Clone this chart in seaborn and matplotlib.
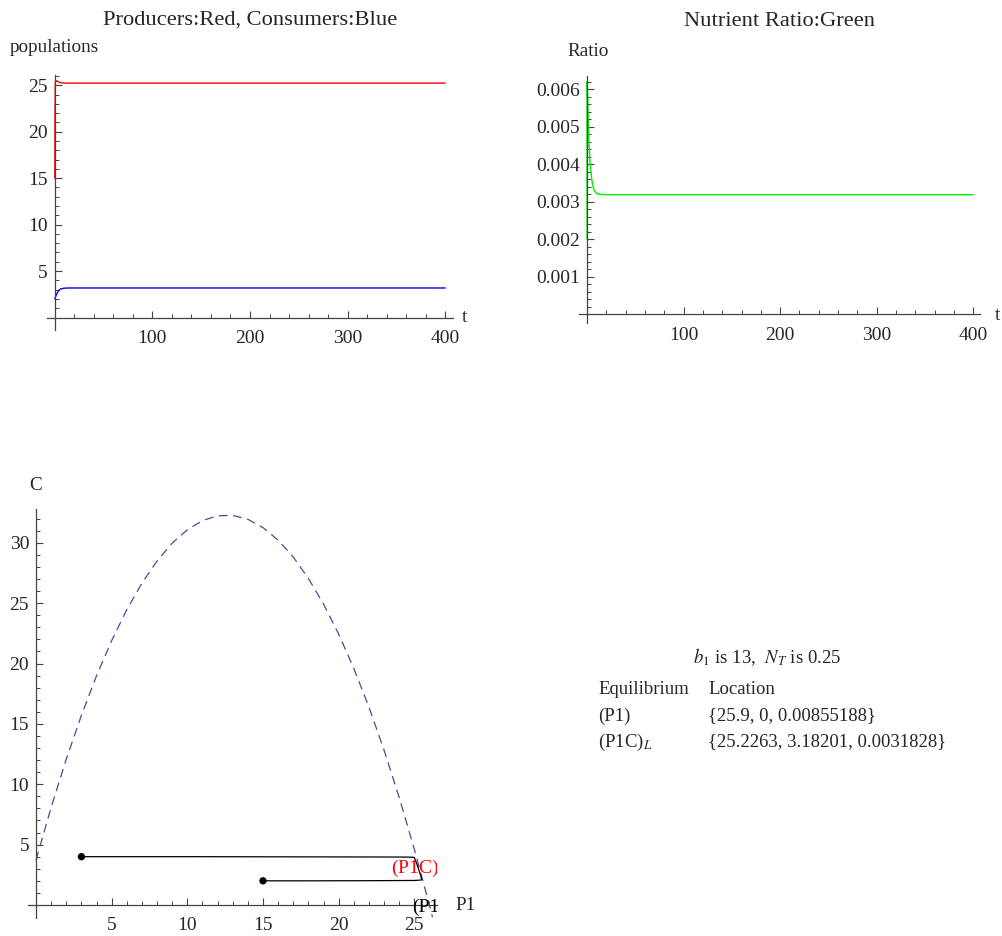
import numpy as np
import pandas as pd
import matplotlib.pyplot as plt
import seaborn as sns
from matplotlib.ticker import FixedLocator

# time series
t_pop = [0, 0.2, 0.5, 1, 2, 3, 4, 5, 6, 8, 10, 12, 15, 20, 30, 50, 100, 200, 300, 400]
producers = [15.0, 22.0, 25.3, 25.5, 25.45, 25.4, 25.35, 25.3, 25.27, 25.24, 25.23, 25.227,
             25.2263, 25.2263, 25.2263, 25.2263, 25.2263, 25.2263, 25.2263, 25.2263]
consumers = [2.0, 2.05, 2.15, 2.3, 2.55, 2.75, 2.9, 3.0, 3.07, 3.13, 3.16, 3.175,
             3.18, 3.182, 3.182, 3.182, 3.182, 3.182, 3.182, 3.182]

t_ratio = [0, 0.1, 0.5, 1, 1.5, 2, 3, 4, 5, 6, 7, 8, 10, 12, 15, 20, 30, 100, 200, 300, 400]
ratio = [0.0020, 0.0062, 0.0059, 0.0054, 0.0050, 0.0046, 0.0041, 0.0038, 0.00358, 0.00343,
         0.00334, 0.00328, 0.00322, 0.00320, 0.003188, 0.003183, 0.0031828, 0.0031828,
         0.0031828, 0.0031828, 0.0031828]

# phase plane: dashed nullcline and two trajectories
null_p = [0, 1, 2, 3, 4, 5, 6, 7, 8, 9, 10, 11, 12, 13, 14, 15, 16, 17, 18, 19, 20,
          21, 22, 23, 24, 25, 26, 26.2]
null_c = [3.72, 8.08, 12.08, 15.71, 18.99, 21.90, 24.46, 26.66, 28.49, 29.97, 31.08,
          31.84, 32.24, 32.27, 31.95, 31.26, 30.22, 28.82, 27.05, 24.93, 22.44, 19.60,
          16.40, 12.83, 8.91, 4.62, -0.02, -1.0]

traj1_p = [3, 6, 10, 15, 20, 24, 24.8, 25.0, 25.23]
traj1_c = [4.0, 4.0, 4.0, 3.99, 3.98, 3.97, 3.96, 3.94, 3.18]
traj2_p = [15, 18, 22, 25.0, 25.4, 25.5, 25.23]
traj2_c = [2.0, 2.0, 2.01, 2.03, 2.06, 2.1, 3.18]
start_p = [3, 15]
start_c = [4, 2]

eq_labels = ["(P1)", r"(P1C)$_L$"]
eq_locations = ["{25.9, 0, 0.00855188}", "{25.2263, 3.18201, 0.0031828}"]

sns.set_style("ticks")
plt.rcParams['font.family'] = ['Liberation Serif', 'DejaVu Serif']
plt.rcParams['mathtext.fontset'] = 'stix'

W, H = 1003, 936
fig = plt.figure(figsize=(W / 100, H / 100), dpi=100)


def px_axes(x0, y0, x1, y1):
    return fig.add_axes([x0 / W, 1 - y1 / H, (x1 - x0) / W, (y1 - y0) / H])


def style(ax, xmaj, xmin, ymaj, ymin, xfmt=None, yfmt=None):
    for s in ['top', 'right']:
        ax.spines[s].set_visible(False)
    ax.spines['left'].set_position(('data', 0))
    ax.spines['bottom'].set_position(('data', 0))
    for s in ['left', 'bottom']:
        ax.spines[s].set_color('#444444')
        ax.spines[s].set_linewidth(0.9)
    ax.set_xticks(xmaj)
    ax.set_yticks(ymaj)
    if xfmt:
        ax.set_xticklabels(xfmt)
    if yfmt:
        ax.set_yticklabels(yfmt)
    ax.xaxis.set_minor_locator(FixedLocator(xmin))
    ax.yaxis.set_minor_locator(FixedLocator(ymin))
    ax.tick_params(which='major', direction='in', length=5, width=0.8, color='#444444',
                   labelsize=14, pad=5)
    ax.tick_params(which='minor', direction='in', length=2.8, width=0.7, color='#444444')
    ax.tick_params(axis='x', which='major', pad=9)
    ax.set_xlabel('')
    ax.set_ylabel('')
    ax.set_facecolor('none')


# top-left: populations
ax1 = px_axes(47, 75, 453, 330)
pop = pd.DataFrame({'t': t_pop, 'P': producers, 'C': consumers})
sns.lineplot(data=pop, x='t', y='P', color='red', lw=1.0, ax=ax1)
sns.lineplot(data=pop, x='t', y='C', color='blue', lw=1.0, ax=ax1)
ax1.set_xlim(-8, 408)
ax1.set_ylim(-1.34, 26.1)
style(ax1, [100, 200, 300, 400], list(range(20, 401, 20)),
      [5, 10, 15, 20, 25], list(range(1, 27)))
fig.text(250 / W, 1 - 20 / H, "Producers:Red, Consumers:Blue", ha='center', va='center', fontsize=16.2)
fig.text(10 / W, 1 - 48 / H, "populations", ha='left', va='center', fontsize=13.8)
fig.text(462 / W, 1 - 318 / H, "t", ha='left', va='center', fontsize=13.8)

# top-right: nutrient ratio
ax2 = px_axes(579, 76, 980, 323)
rat = pd.DataFrame({'t': t_ratio, 'R': ratio})
sns.lineplot(data=rat, x='t', y='R', color='#00ee00', lw=1.0, ax=ax2)
ax2.set_xlim(-8.3, 407)
ax2.set_ylim(-0.00024, 0.00635)
style(ax2, [100, 200, 300, 400], list(range(20, 401, 20)),
      [0.001, 0.002, 0.003, 0.004, 0.005, 0.006], [i * 0.0002 for i in range(1, 32)],
      yfmt=["0.001", "0.002", "0.003", "0.004", "0.005", "0.006"])
fig.text(780 / W, 1 - 22 / H, "Nutrient Ratio:Green", ha='center', va='center', fontsize=16.2)
fig.text(567 / W, 1 - 52 / H, "Ratio", ha='left', va='center', fontsize=13.8)
fig.text(995 / W, 1 - 316 / H, "t", ha='left', va='center', fontsize=13.8)

# bottom-left: phase plane
ax3 = px_axes(28, 509, 437, 918)
nc = pd.DataFrame({'P': null_p, 'C': null_c})
sns.lineplot(data=nc, x='P', y='C', color='#4a4a9c', lw=0.9, ax=ax3,
             sort=False, estimator=None, dashes=False)
ax3.lines[-1].set_dashes([7, 4.5])
tr1 = pd.DataFrame({'P': traj1_p, 'C': traj1_c})
tr2 = pd.DataFrame({'P': traj2_p, 'C': traj2_c})
sns.lineplot(data=tr1, x='P', y='C', color='black', lw=0.9, ax=ax3, sort=False, estimator=None)
sns.lineplot(data=tr2, x='P', y='C', color='black', lw=0.9, ax=ax3, sort=False, estimator=None)
sns.scatterplot(x=start_p, y=start_c, color='black', s=28, edgecolor='none', ax=ax3, zorder=5)
ax3.set_xlim(-0.53, 26.5)
ax3.set_ylim(-1.08, 32.8)
style(ax3, [5, 10, 15, 20, 25], list(range(1, 27)),
      [5, 10, 15, 20, 25, 30], list(range(1, 33)))
ax3.text(25.35, 3.05, r"(P1C)$_L$", color='red', ha='center', va='center', fontsize=14,
         clip_on=True)
ax3.text(25.95, -0.2, "(P1)", color='black', ha='center', va='center', fontsize=14,
         clip_on=True)
fig.text(36 / W, 1 - 485 / H, "C", ha='center', va='center', fontsize=13.8)
fig.text(455 / W, 1 - 905 / H, "P1", ha='left', va='center', fontsize=13.8)

# equilibrium table
fig.text(767 / W, 1 - 657 / H, r"$b_1$ is 13,  $N_T$ is 0.25", ha='center', va='center', fontsize=13.5)
fig.text(598 / W, 1 - 690 / H, "Equilibrium", ha='left', va='center', fontsize=13.5)
fig.text(708 / W, 1 - 690 / H, "Location", ha='left', va='center', fontsize=13.5)
for i, (lab, loc) in enumerate(zip(eq_labels, eq_locations)):
    y = 716 + 26 * i
    fig.text(598 / W, 1 - y / H, lab, ha='left', va='center', fontsize=13.5)
    fig.text(708 / W, 1 - y / H, loc, ha='left', va='center', fontsize=13.5)

fig.savefig("out.png", dpi=100)
